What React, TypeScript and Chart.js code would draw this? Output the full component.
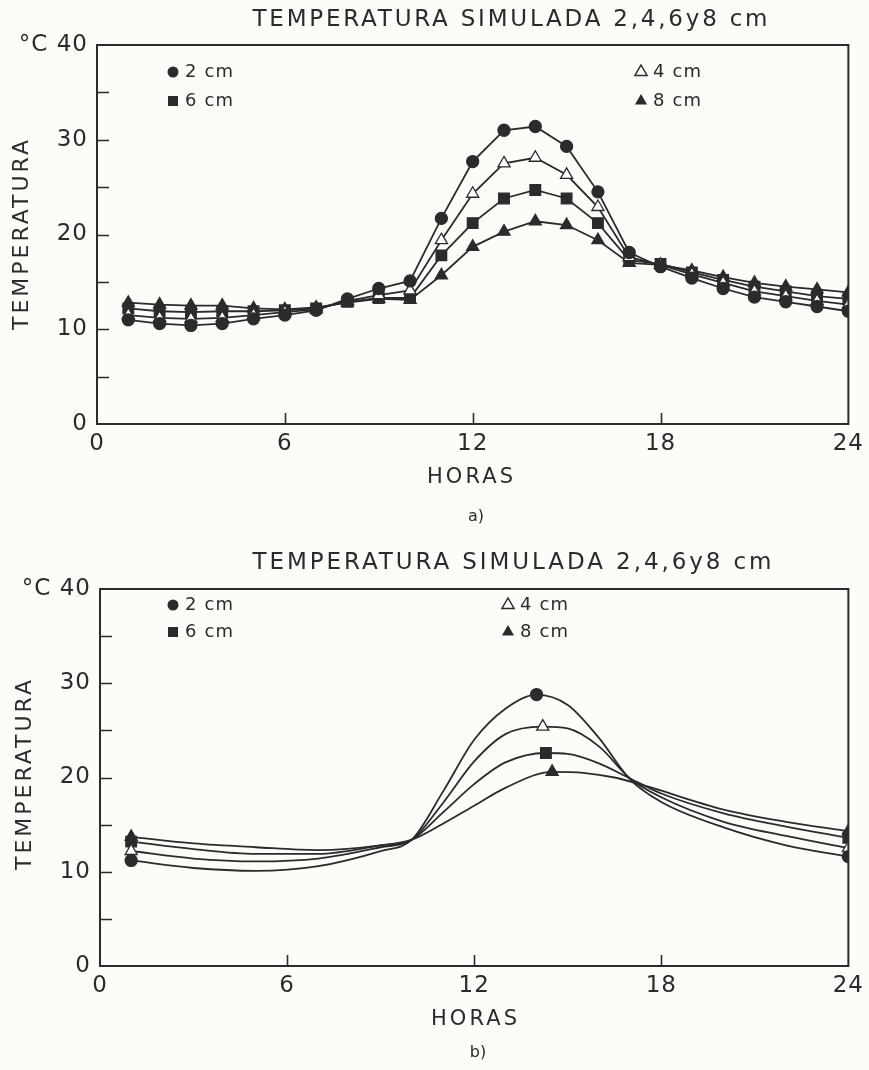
import React, { useEffect, useRef } from "react";
import { Chart, registerables } from "chart.js";
Chart.register(...registerables);

const FONT = "'DejaVu Sans', sans-serif";
const INK = "#2b2b2b";
const PAPER = "#fdfcf9";

const TITLE = "TEMPERATURA SIMULADA 2,4,6y8 cm";
const X_TITLE = "HORAS";
const Y_TITLE = "TEMPERATURA";
const Y_UNIT = "°C";
const X_MIN = 0, X_MAX = 24, X_STEP = 6;
const Y_MIN = 0, Y_MAX = 40, Y_STEP = 10;
const Y_MINOR = [5, 10, 15, 20, 25, 30, 35];
const X_MINOR = [6, 12, 18];
const LABELS = ["2 cm", "4 cm", "6 cm", "8 cm"];

// (a) hourly simulated values
const TOP_HOURS = [1, 2, 3, 4, 5, 6, 7, 8, 9, 10, 11, 12, 13, 14, 15, 16, 17, 18, 19, 20, 21, 22, 23, 24];
const TOP_2CM = [11.0, 10.6, 10.4, 10.6, 11.1, 11.5, 12.0, 13.2, 14.3, 15.1, 21.7, 27.7, 31.0, 31.4, 29.3, 24.5, 18.1, 16.6, 15.4, 14.3, 13.4, 12.9, 12.4, 11.9];
const TOP_4CM = [11.5, 11.2, 11.1, 11.2, 11.5, 11.8, 12.1, 13.0, 13.6, 14.1, 19.4, 24.3, 27.5, 28.1, 26.3, 22.9, 17.6, 16.8, 15.8, 14.9, 14.0, 13.5, 13.0, 12.6];
const TOP_6CM = [12.2, 11.9, 11.8, 11.9, 11.9, 12.0, 12.2, 12.9, 13.3, 13.3, 17.8, 21.2, 23.8, 24.7, 23.8, 21.2, 17.3, 16.9, 16.0, 15.2, 14.5, 14.0, 13.5, 13.2];
const TOP_8CM = [12.8, 12.6, 12.5, 12.5, 12.2, 12.1, 12.3, 12.8, 13.2, 13.1, 15.7, 18.7, 20.3, 21.4, 21.0, 19.4, 17.0, 16.8, 16.2, 15.5, 14.9, 14.5, 14.2, 13.9];

// (b) smooth fitted curves
const BOT_2CM_H = [1, 3, 5, 7, 9, 10, 11, 12, 13, 14, 15, 16, 17, 18, 20, 22, 24];
const BOT_2CM = [11.2, 10.4, 10.1, 10.6, 12.2, 13.4, 18.5, 24.0, 27.3, 28.8, 27.7, 24.2, 19.8, 17.4, 14.7, 12.8, 11.6];
const BOT_4CM_H = [1, 3, 5, 7, 9, 10, 11, 12, 13, 14.2, 15, 16, 17, 18, 20, 22, 24];
const BOT_4CM = [12.2, 11.4, 11.1, 11.4, 12.6, 13.4, 17.3, 21.7, 24.6, 25.4, 25.2, 23.3, 19.9, 17.9, 15.3, 13.8, 12.5];
const BOT_6CM_H = [1, 3, 5, 7, 9, 10, 11, 12, 13, 14.3, 15, 16, 17, 18, 20, 22, 24];
const BOT_6CM = [13.2, 12.4, 11.9, 11.9, 12.8, 13.4, 16.3, 19.3, 21.6, 22.6, 22.5, 21.5, 19.9, 18.3, 16.2, 14.8, 13.6];
const BOT_8CM_H = [1, 3, 5, 7, 9, 10, 11, 12, 13, 14.5, 15.5, 16.5, 17.5, 20, 22, 24];
const BOT_8CM = [13.7, 13.0, 12.6, 12.3, 12.8, 13.4, 15.1, 17.0, 18.9, 20.6, 20.5, 20.0, 19.1, 16.6, 15.3, 14.3];

type Marker = "circle" | "openTri" | "rect" | "tri";

function drawMarker(ctx: CanvasRenderingContext2D, m: Marker, x: number, y: number) {
  ctx.save();
  ctx.fillStyle = INK;
  ctx.strokeStyle = INK;
  ctx.lineWidth = 1.5;
  ctx.beginPath();
  if (m === "circle") {
    ctx.arc(x, y, 5.5, 0, Math.PI * 2);
    ctx.fill();
  } else if (m === "rect") {
    ctx.rect(x - 5, y - 5, 10, 10);
    ctx.fill();
  } else {
    const r = 7;
    ctx.moveTo(x, y - r);
    ctx.lineTo(x + r * 0.866, y + r * 0.5);
    ctx.lineTo(x - r * 0.866, y + r * 0.5);
    ctx.closePath();
    if (m === "tri") ctx.fill();
    else {
      ctx.fillStyle = "#ffffff";
      ctx.fill();
      ctx.stroke();
    }
  }
  ctx.restore();
}

type TextSpec = { text: string; x: number; y: number; size: number; width?: number; rotate?: boolean; left?: boolean };

function drawSpaced(ctx: CanvasRenderingContext2D, t: TextSpec) {
  ctx.save();
  ctx.font = `${t.size}px ${FONT}`;
  ctx.fillStyle = INK;
  ctx.letterSpacing = "0px";
  const w0 = ctx.measureText(t.text).width;
  const n = t.text.length;
  let sp = 0;
  let width = w0;
  if (t.width && n > 1) {
    sp = (t.width - w0) / (n - 1);
    width = t.width;
  }
  ctx.letterSpacing = `${sp}px`;
  ctx.textBaseline = "middle";
  ctx.textAlign = "left";
  ctx.translate(t.x, t.y);
  if (t.rotate) ctx.rotate(-Math.PI / 2);
  ctx.fillText(t.text, t.left ? 0 : -width / 2, 0);
  ctx.restore();
}

type LegendSpec = { marker: Marker; x: number; y: number; label: string };

type ChartSpec = {
  height: number;
  area: { left: number; right: number; top: number; bottom: number };
  texts: TextSpec[];
  legend: LegendSpec[];
  datasets: any[];
};

function framePlugin(spec: ChartSpec) {
  return {
    id: "frame",
    beforeDraw(chart: any) {
      const ctx = chart.ctx as CanvasRenderingContext2D;
      ctx.save();
      ctx.fillStyle = PAPER;
      ctx.fillRect(0, 0, chart.width, chart.height);
      ctx.restore();
      ctx.letterSpacing = "1px";
    },
    afterDraw(chart: any) {
      const ctx = chart.ctx as CanvasRenderingContext2D;
      const a = chart.chartArea;
      const sx = chart.scales.x;
      const sy = chart.scales.y;
      ctx.letterSpacing = "0px";
      ctx.save();
      ctx.strokeStyle = INK;
      ctx.lineWidth = 2;
      ctx.strokeRect(a.left, a.top, a.right - a.left, a.bottom - a.top);
      ctx.lineWidth = 1.6;
      ctx.beginPath();
      for (const v of Y_MINOR) {
        const y = Math.round(sy.getPixelForValue(v)) + 0.5;
        ctx.moveTo(a.left, y);
        ctx.lineTo(a.left + 12, y);
      }
      for (const v of X_MINOR) {
        const x = Math.round(sx.getPixelForValue(v)) + 0.5;
        ctx.moveTo(x, a.bottom);
        ctx.lineTo(x, a.bottom - 11);
      }
      ctx.stroke();
      ctx.restore();
      for (const t of spec.texts) drawSpaced(ctx, t);
      for (const l of spec.legend) {
        drawMarker(ctx, l.marker, l.x, l.y);
        drawSpaced(ctx, { text: l.label, x: l.x + 12, y: l.y, size: 18, width: 48, left: true });
      }
    },
  };
}

function buildConfig(spec: ChartSpec, width: number): any {
  return {
    type: "line",
    data: { datasets: spec.datasets },
    options: {
      animation: false,
      responsive: false,
      maintainAspectRatio: false,
      layout: { padding: { left: 0, top: spec.area.top, right: width - spec.area.right, bottom: 0 } },
      plugins: { legend: { display: false }, tooltip: { enabled: false }, title: { display: false } },
      scales: {
        x: {
          type: "linear",
          min: X_MIN,
          max: X_MAX,
          border: { display: false },
          grid: { display: false, drawTicks: false },
          ticks: { stepSize: X_STEP, color: INK, font: { family: FONT, size: 23 }, padding: 6, maxRotation: 0 },
          afterFit: (s: any) => {
            s.height = spec.height - spec.area.bottom;
          },
        },
        y: {
          type: "linear",
          min: Y_MIN,
          max: Y_MAX,
          border: { display: false },
          grid: { display: false, drawTicks: false },
          ticks: {
            stepSize: Y_STEP,
            color: INK,
            font: { family: FONT, size: 23 },
            padding: 9,
            callback: (v: number) => (v === Y_MAX ? `${Y_UNIT} ${v}` : `${v}`),
          },
          afterFit: (s: any) => {
            s.width = spec.area.left;
          },
        },
      },
    },
    plugins: [framePlugin(spec)],
  };
}

function pointOpts(m: Marker) {
  if (m === "circle") return { pointStyle: "circle", r: 6, bg: INK };
  if (m === "openTri") return { pointStyle: "triangle", r: 7, bg: "#ffffff" };
  if (m === "rect") return { pointStyle: "rect", r: 7.5, bg: INK };
  return { pointStyle: "triangle", r: 7, bg: INK };
}

function topDataset(label: string, values: number[], m: Marker) {
  const p = pointOpts(m);
  return {
    label,
    data: TOP_HOURS.map((h, i) => ({ x: h, y: values[i] })),
    borderColor: INK,
    borderWidth: 1.8,
    tension: 0,
    pointStyle: p.pointStyle,
    pointRadius: p.r,
    pointBackgroundColor: p.bg,
    pointBorderColor: INK,
    pointBorderWidth: 1.3,
  };
}

function botDataset(label: string, hours: number[], values: number[], m: Marker) {
  const p = pointOpts(m);
  let peak = 0;
  values.forEach((v, i) => {
    if (v > values[peak]) peak = i;
  });
  const last = values.length - 1;
  return {
    label,
    data: hours.map((h, i) => ({ x: h, y: values[i] })),
    borderColor: INK,
    borderWidth: 1.8,
    cubicInterpolationMode: "monotone",
    pointStyle: p.pointStyle,
    pointRadius: (c: any) => (c.dataIndex === 0 || c.dataIndex === last || c.dataIndex === peak ? p.r : 0),
    pointBackgroundColor: p.bg,
    pointBorderColor: INK,
    pointBorderWidth: 1.3,
  };
}

const W = 869;
const H = 535;

const TOP_SPEC: ChartSpec = {
  height: H,
  area: { left: 97, right: 851, top: 45, bottom: 424 },
  texts: [
    { text: TITLE, x: 510, y: 20, size: 23, width: 515 },
    { text: X_TITLE, x: 470, y: 478, size: 21, width: 86 },
    { text: "a)", x: 476, y: 517, size: 16 },
    { text: Y_TITLE, x: 22, y: 235, size: 22, width: 190, rotate: true },
  ],
  legend: [
    { marker: "circle", x: 173, y: 72, label: LABELS[0] },
    { marker: "rect", x: 173, y: 101, label: LABELS[2] },
    { marker: "openTri", x: 641, y: 72, label: LABELS[1] },
    { marker: "tri", x: 641, y: 101, label: LABELS[3] },
  ],
  datasets: [
    topDataset(LABELS[0], TOP_2CM, "circle"),
    topDataset(LABELS[1], TOP_4CM, "openTri"),
    topDataset(LABELS[2], TOP_6CM, "rect"),
    topDataset(LABELS[3], TOP_8CM, "tri"),
  ],
};

const BOT_SPEC: ChartSpec = {
  height: H,
  area: { left: 100, right: 851, top: 54, bottom: 431 },
  texts: [
    { text: TITLE, x: 512, y: 28, size: 23, width: 519 },
    { text: X_TITLE, x: 474, y: 485, size: 21, width: 86 },
    { text: "b)", x: 478, y: 518, size: 16 },
    { text: Y_TITLE, x: 25, y: 240, size: 22, width: 190, rotate: true },
  ],
  legend: [
    { marker: "circle", x: 173, y: 70, label: LABELS[0] },
    { marker: "rect", x: 173, y: 97, label: LABELS[2] },
    { marker: "openTri", x: 508, y: 70, label: LABELS[1] },
    { marker: "tri", x: 508, y: 97, label: LABELS[3] },
  ],
  datasets: [
    botDataset(LABELS[0], BOT_2CM_H, BOT_2CM, "circle"),
    botDataset(LABELS[1], BOT_4CM_H, BOT_4CM, "openTri"),
    botDataset(LABELS[2], BOT_6CM_H, BOT_6CM, "rect"),
    botDataset(LABELS[3], BOT_8CM_H, BOT_8CM, "tri"),
  ],
};

function Panel({ spec }: { spec: ChartSpec }) {
  const ref = useRef<HTMLCanvasElement | null>(null);
  useEffect(() => {
    if (!ref.current) return;
    const chart = new Chart(ref.current, buildConfig(spec, W));
    return () => chart.destroy();
  }, [spec]);
  return <canvas ref={ref} width={W} height={H} style={{ display: "block", width: W, height: H }} />;
}

export default function App() {
  return (
    <div style={{ position: "absolute", left: 0, top: 0, width: W, height: 2 * H, background: PAPER }}>
      <Panel spec={TOP_SPEC} />
      <Panel spec={BOT_SPEC} />
    </div>
  );
}
